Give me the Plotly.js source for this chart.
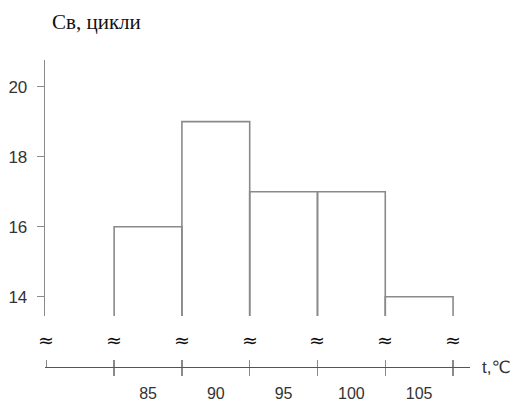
<!DOCTYPE html>
<html>
<head>
<meta charset="utf-8">
<script src="https://cdn.plot.ly/plotly-3.0.1.min.js"></script>
<style>html,body{margin:0;padding:0;background:#fff;}#chart{width:512px;height:404px;}</style>
</head>
<body>
<div id="chart"></div>
<script>
// Data
var categories = ['85', '90', '95', '100', '105'];
var values = [16, 19, 17, 17, 14];
var yTicks = [14, 16, 18, 20];
var titleText = 'Св, цикли';
var xLabelText = 't,\u2103';
var breakSymbol = '\u2248';

// bar i spans [i, i+1] on the x scale; axis starts one bar-width left of first bar
var centers = categories.map(function (c, i) { return i + 0.5; });
var edges = [];
for (var i = 0; i <= categories.length; i++) edges.push(i);
var breakPos = [-1].concat(edges);

var lineGray = '#8a8a8a';
var axisDark = '#555555';
var textCol = '#333333';

var traces = [
  {
    type: 'bar',
    x: centers,
    y: values,
    width: 1,
    marker: { color: 'rgba(255,255,255,0)', line: { color: lineGray, width: 1.6 } },
    xaxis: 'x', yaxis: 'y',
    hoverinfo: 'skip',
    showlegend: false
  },
  {
    type: 'scatter', mode: 'none',
    x: breakPos, y: breakPos.map(function () { return null; }),
    xaxis: 'x2', yaxis: 'y', showlegend: false, hoverinfo: 'skip'
  }
];

var annotations = breakPos.map(function (p) {
  return {
    xref: 'x', yref: 'paper', x: p, y: 0.088,
    text: breakSymbol, showarrow: false,
    font: { family: 'DejaVu Sans, sans-serif', size: 19, color: '#111' },
    xanchor: 'center', yanchor: 'middle'
  };
});
annotations.push({
  xref: 'paper', yref: 'paper', x: 1, y: 0, xshift: 10,
  text: xLabelText, showarrow: false,
  font: { family: 'Liberation Sans, DejaVu Sans, sans-serif', size: 17, color: textCol },
  xanchor: 'left', yanchor: 'middle'
});

var xRange = [-1.02, 5.25];

var layout = {
  width: 512, height: 404,
  margin: { l: 45, r: 42, t: 60, b: 37, pad: 0 },
  paper_bgcolor: '#fff', plot_bgcolor: '#fff',
  showlegend: false,
  bargap: 0,
  title: {
    text: titleText,
    x: 52 / 512, xanchor: 'left',
    y: 1 - 22 / 404, yanchor: 'middle',
    font: { family: 'Liberation Serif, Times New Roman, serif', size: 21, color: '#111' }
  },
  xaxis: {
    range: xRange,
    anchor: 'free', position: 0,
    showline: true, linecolor: axisDark, linewidth: 1.3,
    showgrid: false, zeroline: false,
    tickmode: 'array', tickvals: centers, ticktext: categories,
    ticks: 'outside', ticklen: 11, tickcolor: 'rgba(0,0,0,0)',
    tickfont: { family: 'Liberation Sans, Arial, sans-serif', size: 16, color: textCol },
    minor: { tickmode: 'array', tickvals: edges, ticks: 'outside', ticklen: 8, tickcolor: lineGray, tickwidth: 1.3 }
  },
  xaxis2: {
    range: xRange,
    overlaying: 'x',
    anchor: 'free', position: 0,
    showline: false, showgrid: false, zeroline: false,
    tickmode: 'array', tickvals: breakPos,
    ticks: 'inside', ticklen: 7, tickcolor: lineGray, tickwidth: 1.3,
    showticklabels: false
  },
  yaxis: {
    domain: [0.166, 1],
    range: [13.45, 20.76],
    showline: true, linecolor: lineGray, linewidth: 1.3,
    showgrid: false, zeroline: false,
    tickmode: 'array', tickvals: yTicks,
    ticks: 'outside', ticklen: 7, tickcolor: lineGray, tickwidth: 1.3,
    ticklabelstandoff: 6,
    tickfont: { family: 'Liberation Sans, Arial, sans-serif', size: 17, color: textCol }
  },
  annotations: annotations
};

Plotly.newPlot('chart', traces, layout, { staticPlot: true, displayModeBar: false });
</script>
</body>
</html>
